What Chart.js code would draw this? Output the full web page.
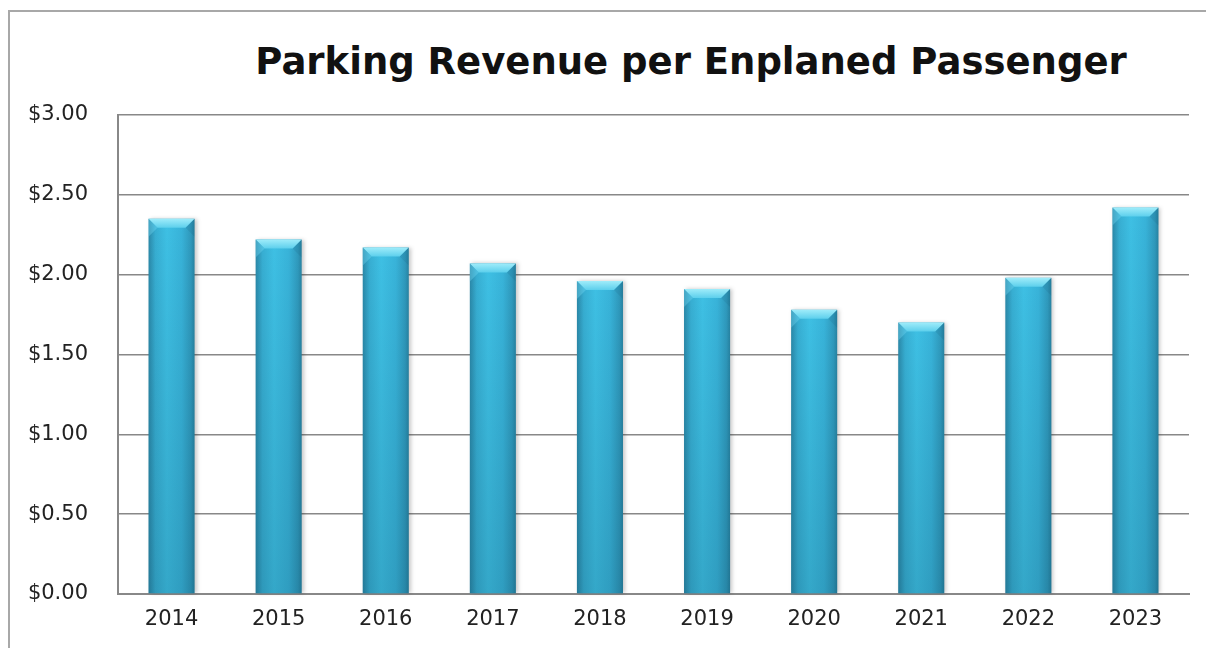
<!DOCTYPE html>
<html>
<head>
<meta charset="utf-8">
<script src="https://cdn.jsdelivr.net/npm/chart.js@4.4.1/dist/chart.umd.min.js"></script>
<style>
    html, body { margin: 0; padding: 0; background: #fff; overflow: hidden; }
    #wrap { position: relative; width: 1206px; height: 648px; overflow: hidden; }
    #bordoSup { position: absolute; left: 8px; top: 10px; width: 1198px; height: 2px; background: #a8a8a8; }
    #bordoSin { position: absolute; left: 8px; top: 10px; width: 2px; height: 638px; background: #a8a8a8; }
    #titolo {
        position: absolute; left: 691px; top: 40px; transform: translateX(-50%);
        white-space: nowrap; font-family: "DejaVu Sans", sans-serif; font-weight: bold;
        font-size: 37px; line-height: 44px; color: #111; margin: 0;
    }
    canvas { position: absolute; left: 0; top: 0; }
</style>
</head>
<body>
<div id="wrap">
    <div id="bordoSup"></div>
    <div id="bordoSin"></div>
    <h1 id="titolo">Parking Revenue per Enplaned Passenger</h1>
    <canvas id="grafico" width="1206" height="648"></canvas>
</div>
<script>
const anni = ['2014', '2015', '2016', '2017', '2018', '2019', '2020', '2021', '2022', '2023'];
const ricavo = [2.35, 2.22, 2.17, 2.07, 1.96, 1.91, 1.78, 1.70, 1.98, 2.42];
const tickValori = [0, 0.5, 1, 1.5, 2, 2.5, 3];

// barre con effetto "cilindro" e smusso in alto
const barreSmussate = {
    id: 'barreSmussate',
    afterDatasetsDraw(chart) {
        const { ctx } = chart;
        const meta = chart.getDatasetMeta(0);
        meta.data.forEach(bar => {
            const x0 = bar.x - bar.width / 2;
            const x1 = bar.x + bar.width / 2;
            const top = bar.y;
            const base = bar.base;
            const b = 9;

            ctx.save();
            // ombra leggera
            ctx.shadowColor = 'rgba(0,0,0,0.22)';
            ctx.shadowBlur = 4;
            ctx.shadowOffsetX = 2;
            ctx.shadowOffsetY = 0;

            const gh = ctx.createLinearGradient(x0, 0, x1, 0);
            gh.addColorStop(0, '#2a88a8');
            gh.addColorStop(0.15, '#37aed2');
            gh.addColorStop(0.4, '#3ec0e4');
            gh.addColorStop(0.72, '#38b3d9');
            gh.addColorStop(0.92, '#2f99bc');
            gh.addColorStop(1, '#2783a2');
            ctx.fillStyle = gh;
            ctx.fillRect(x0, top, x1 - x0, base - top);
            ctx.restore();

            // scurisce verso il basso
            ctx.save();
            const gv = ctx.createLinearGradient(0, top, 0, base);
            gv.addColorStop(0, 'rgba(0,40,60,0)');
            gv.addColorStop(1, 'rgba(0,40,60,0.16)');
            ctx.fillStyle = gv;
            ctx.fillRect(x0, top, x1 - x0, base - top);

            // smusso superiore
            const gc = ctx.createLinearGradient(0, top, 0, top + b);
            gc.addColorStop(0, '#9fecfa');
            gc.addColorStop(1, '#5ccfec');
            ctx.fillStyle = gc;
            ctx.beginPath();
            ctx.moveTo(x0, top);
            ctx.lineTo(x1, top);
            ctx.lineTo(x1 - b, top + b);
            ctx.lineTo(x0 + b, top + b);
            ctx.closePath();
            ctx.fill();

            // lati dello smusso
            ctx.fillStyle = 'rgba(120,220,245,0.35)';
            ctx.beginPath();
            ctx.moveTo(x0, top);
            ctx.lineTo(x0 + b, top + b);
            ctx.lineTo(x0, top + b * 2);
            ctx.closePath();
            ctx.fill();
            ctx.fillStyle = 'rgba(0,40,60,0.08)';
            ctx.beginPath();
            ctx.moveTo(x1, top);
            ctx.lineTo(x1 - b, top + b);
            ctx.lineTo(x1, top + b * 2);
            ctx.closePath();
            ctx.fill();
            ctx.restore();
        });
    }
};

const ctx = document.getElementById('grafico');

new Chart(ctx, {
    type: 'bar',
    data: {
        labels: anni,
        datasets: [{
            data: ricavo,
            backgroundColor: 'rgba(0,0,0,0)',
            borderWidth: 0,
            categoryPercentage: 1,
            barPercentage: 0.43
        }]
    },
    options: {
        responsive: false,
        animation: false,
        layout: {
            padding: { left: 0, right: 17, top: 115, bottom: 0 }
        },
        plugins: {
            legend: { display: false },
            title: { display: false },
            tooltip: { enabled: false }
        },
        scales: {
            x: {
                grid: { display: false, drawTicks: false },
                border: { display: true, color: '#888', width: 2 },
                ticks: {
                    color: '#222',
                    font: { family: 'DejaVu Sans', size: 21 },
                    padding: 13
                },
                afterFit: s => { s.height = 54; }
            },
            y: {
                min: 0,
                max: 3,
                afterBuildTicks: s => { s.ticks = tickValori.map(v => ({ value: v })); },
                grid: { color: '#888', lineWidth: 1.5, drawTicks: false },
                border: { display: true, color: '#888', width: 2 },
                ticks: {
                    color: '#222',
                    font: { family: 'DejaVu Sans', size: 21 },
                    padding: 30,
                    callback: v => '$' + Number(v).toFixed(2)
                },
                afterFit: s => { s.width = 118; }
            }
        }
    },
    plugins: [barreSmussate]
});
</script>
</body>
</html>
